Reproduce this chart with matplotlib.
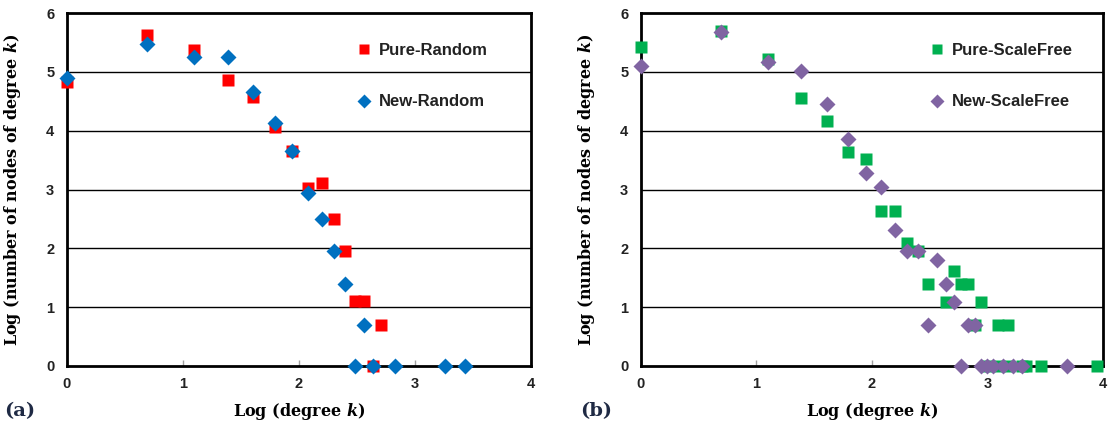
import numpy as np
import matplotlib
matplotlib.use("Agg")
import matplotlib.pyplot as plt

plt.rcParams['mathtext.fontset'] = 'custom'
plt.rcParams['mathtext.it'] = 'DejaVu Serif:italic:bold'
plt.rcParams['mathtext.rm'] = 'DejaVu Serif:bold'

# log(degree) / log(count) pairs, panel (a)
pure_random_x = [0.0, 0.693, 1.099, 1.386, 1.609, 1.792, 1.946, 2.079, 2.197,
                 2.303, 2.398, 2.485, 2.565, 2.708, 2.639]
pure_random_y = [4.83, 5.62, 5.38, 4.86, 4.58, 4.06, 3.66, 3.02, 3.11,
                 2.50, 1.95, 1.10, 1.10, 0.69, 0.0]
new_random_x = [0.0, 0.693, 1.099, 1.386, 1.609, 1.792, 1.946, 2.079, 2.197,
                2.303, 2.398, 2.565, 2.485, 2.639, 2.833, 3.258, 3.434]
new_random_y = [4.89, 5.48, 5.26, 5.26, 4.65, 4.13, 3.65, 2.94, 2.50,
                1.95, 1.39, 0.69, 0.0, 0.0, 0.0, 0.0, 0.0]

# panel (b)
pure_sf_x = [0.0, 0.693, 1.099, 1.386, 1.609, 1.792, 1.946, 2.079, 2.197,
             2.303, 2.398, 2.485, 2.708, 2.773, 2.833, 2.639, 2.944, 2.890,
             3.091, 3.178, 2.996, 3.091, 3.178, 3.296, 3.332, 3.466, 3.951]
pure_sf_y = [5.42, 5.69, 5.22, 4.56, 4.17, 3.63, 3.52, 2.64, 2.64,
             2.09, 1.96, 1.39, 1.62, 1.39, 1.39, 1.09, 1.09, 0.70,
             0.70, 0.70, 0.0, 0.0, 0.0, 0.0, 0.0, 0.0, 0.0]
new_sf_x = [0.0, 0.693, 1.099, 1.386, 1.609, 1.792, 1.946, 2.079, 2.197,
            2.303, 2.398, 2.565, 2.485, 2.639, 2.708, 2.833, 2.890,
            2.773, 2.944, 2.996, 3.045, 3.135, 3.219, 3.296, 3.689]
new_sf_y = [5.10, 5.68, 5.16, 5.02, 4.45, 3.86, 3.28, 3.04, 2.31,
            1.96, 1.96, 1.80, 0.70, 1.39, 1.09, 0.70, 0.70,
            0.0, 0.0, 0.0, 0.0, 0.0, 0.0, 0.0, 0.0]

x_ticks = [0, 1, 2, 3, 4]
y_ticks = [0, 1, 2, 3, 4, 5, 6]

fig = plt.figure(figsize=(11.12, 4.36), dpi=100)
ax_a = fig.add_axes([0.060, 0.1606, 0.4173, 0.8094])
ax_b = fig.add_axes([0.5762, 0.1606, 0.4157, 0.8094])


def style_axes(ax):
    ax.set_xlim(0, 4)
    ax.set_ylim(0, 6)
    ax.set_xticks(x_ticks)
    ax.set_yticks(y_ticks)
    for s in ax.spines.values():
        s.set_linewidth(2)
        s.set_color('black')
    ax.tick_params(axis='x', direction='in', length=4, width=1, color='#a0a0a0', pad=8)
    ax.tick_params(axis='y', length=0, pad=9)
    for lab in ax.get_xticklabels() + ax.get_yticklabels():
        lab.set_fontfamily('Liberation Sans')
        lab.set_fontweight('bold')
        lab.set_fontsize(10.5)
        lab.set_color('#222222')
    for yv in y_ticks[1:-1]:
        ax.axhline(yv, color='black', lw=1, zorder=0)
    ax.set_xlabel(r'Log (degree $k$)', family='DejaVu Serif', weight='bold',
                  fontsize=11.5)
    ax.xaxis.set_label_coords(0.5, -0.10)
    ax.set_ylabel(r'Log (number of nodes of degree $k$)', family='DejaVu Serif',
                  weight='bold', fontsize=11.5)
    ax.yaxis.set_label_coords(-0.094, 0.5)


style_axes(ax_a)
ax_a.plot(pure_random_x, pure_random_y, 's', color='#ff0000', ms=8, mec='none',
          label='Pure-Random', clip_on=False, zorder=3)
ax_a.plot(new_random_x, new_random_y, 'D', color='#0070c0', ms=8.3, mec='none',
          label='New-Random', clip_on=False, zorder=4)

style_axes(ax_b)
ax_b.plot(pure_sf_x, pure_sf_y, 's', color='#00b050', ms=8, mec='none',
          label='Pure-ScaleFree', clip_on=False, zorder=3)
ax_b.plot(new_sf_x, new_sf_y, 'D', color='#8064a2', ms=8.3, mec='none',
          label='New-ScaleFree', clip_on=False, zorder=4)

for ax in (ax_a, ax_b):
    leg = ax.legend(loc='upper left', bbox_to_anchor=(0.612, 0.935), frameon=False,
                    markerscale=0.85, handlelength=0.8, handletextpad=0.5,
                    labelspacing=2.2, borderaxespad=0,
                    prop={'family': 'Liberation Sans', 'weight': 'bold', 'size': 12})
    for t in leg.get_texts():
        t.set_color('#222222')

fig.text(0.004, 0.045, '(a)', family='DejaVu Serif', weight='bold',
         fontsize=14, color='#1f2a44')
fig.text(0.522, 0.045, '(b)', family='DejaVu Serif', weight='bold',
         fontsize=14, color='#1f2a44')

fig.savefig('out.png', dpi=100)
